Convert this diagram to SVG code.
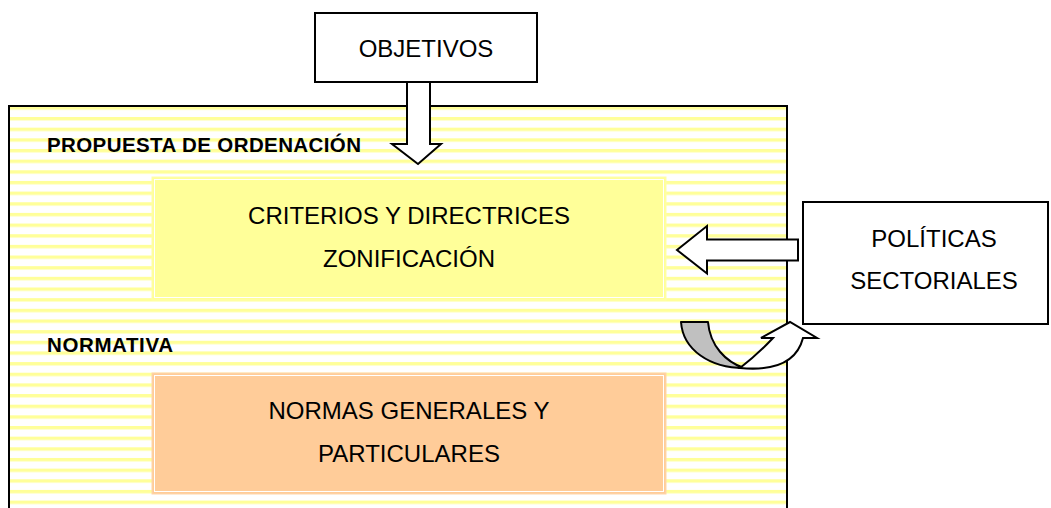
<svg xmlns="http://www.w3.org/2000/svg" width="1051" height="508" viewBox="0 0 1051 508">
<style>
.t{font-family:"Liberation Sans",Arial,sans-serif;font-size:24px;fill:#000;text-anchor:middle}
.lb{font-family:"Liberation Sans",Arial,sans-serif;font-size:20.5px;font-weight:bold;fill:#000}
.box{fill:#fff;stroke:#000;stroke-width:2}
.arr{fill:#fff;stroke:#000;stroke-width:2;stroke-linejoin:miter}
.inner{fill:none;stroke:#fff;stroke-width:1}
</style>
<defs>
<pattern id="stripes" patternUnits="userSpaceOnUse" x="0" y="117" width="20" height="10.655">
<rect x="0" y="0" width="20" height="3.4" fill="#FFFF99"/>
</pattern>
</defs>
<rect width="1051" height="508" fill="#fff"/>
<g id="propuesta-frame">
<rect x="9" y="106" width="778" height="420" fill="#fff" stroke="none"/>
<rect x="10" y="107" width="776" height="410" fill="url(#stripes)"/>
<rect x="9" y="106" width="778" height="420" fill="none" stroke="#000" stroke-width="2"/>
<text class="lb" x="47" y="152" textLength="314" lengthAdjust="spacing">PROPUESTA DE ORDENACIÓN</text>
<text class="lb" x="47" y="352" textLength="126" lengthAdjust="spacing">NORMATIVA</text>
</g>
<g id="criterios">
<rect x="152" y="177" width="514" height="123" fill="#FFFF99" stroke="#FFFFA8" stroke-width="1"/>
<rect x="154.5" y="179.5" width="509" height="118" class="inner"/>
<text class="t" x="409" y="224">CRITERIOS Y DIRECTRICES</text>
<text class="t" x="409" y="267">ZONIFICACIÓN</text>
</g>
<g id="normas">
<rect x="152" y="373" width="514" height="121" fill="#FFCC99" stroke="#FFD6AA" stroke-width="1"/>
<rect x="154.5" y="375.5" width="509" height="116" class="inner"/>
<text class="t" x="409" y="419">NORMAS GENERALES Y</text>
<text class="t" x="409" y="462">PARTICULARES</text>
</g>
<g id="objetivos">
<rect x="315" y="13" width="222" height="69" class="box"/>
<text class="t" x="426" y="57">OBJETIVOS</text>
</g>
<g id="politicas">
<rect x="803" y="202" width="245" height="122" class="box"/>
<text class="t" x="934" y="247">POLÍTICAS</text>
<text class="t" x="934" y="289">SECTORIALES</text>
</g>
<g id="connectors">
<polygon class="arr" points="407,82 430,82 430,144 441,144 418,164 392,144 407,144"/>
<polygon class="arr" points="798,239.5 707,239.5 707,226 677,250 707,273.5 707,260.5 798,260.5"/>
<path d="M681,322 L708,322 C710,346 726,362 744,368 C710,368 683,350 681,322 Z" fill="#C0C0C0" stroke="#000" stroke-width="2" stroke-linejoin="round"/>
<path d="M740,368 Q758,354 773,338 L761,338 L790,322 L817,338 L803,338 Q794,373 740,368 Z" fill="#fff" stroke="#000" stroke-width="2" stroke-linejoin="miter"/>
</g>
</svg>
